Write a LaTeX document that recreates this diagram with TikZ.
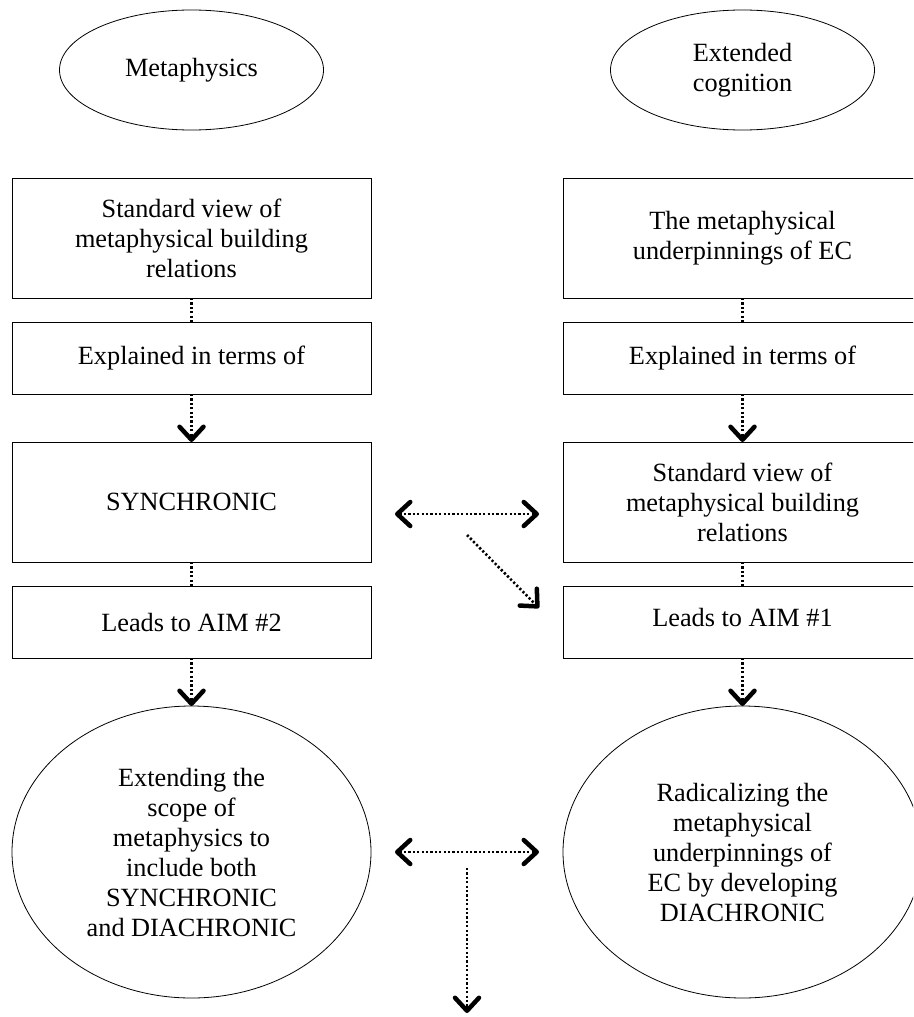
\documentclass[tikz,border=0pt]{standalone}
\usepackage{fontspec}
\setmainfont{Liberation Serif}
\usetikzlibrary{positioning,shapes.geometric,arrows.meta}

\begin{document}
\begin{tikzpicture}[x=1pt,y=-1pt,node distance=24pt and 192pt,
                        font=\fontsize{26.3}{30}\selectfont,
                        >={Straight Barb[length=13pt,width=24pt,line width=4.5pt 0,round]},
                        box/.style={rectangle,draw,line width=0.8pt,minimum width=359pt,
                                    align=center,inner sep=0pt,outer sep=0pt},
                        tall box/.style={box,minimum height=120pt},
                        short box/.style={box,minimum height=72pt},
                        topic node/.style={ellipse,draw,line width=0.8pt,minimum width=264pt,
                                    minimum height=120pt,align=center,inner sep=0pt,outer sep=0pt},
                        aim node/.style={ellipse,draw,line width=0.8pt,minimum width=359pt,
                                    minimum height=292pt,align=center,inner sep=0pt,outer sep=0pt},
                        link/.style={line width=2.6pt,dash pattern=on 2.2pt off 2.2pt}]

    \useasboundingbox (0,0) rectangle (913,1017);
    \clip (0,0) rectangle (913,1017);

    % Define topics
    \node[topic node] (meta) at (191.5,70) {Metaphysics};
    \node[topic node] (ec) at (742.5,70) {Extended\\cognition};

    % Left column
    \node[tall box] (std) at (191.5,238) {Standard view of\\metaphysical building\\relations};
    \node[short box,below=of std] (expl) {Explained in terms of};
    \node[tall box,below=48pt of expl] (syn) {SYNCHRONIC};
    \node[short box,below=of syn] (aim2) {Leads to AIM \#2};
    \node[aim node,below=48pt of aim2] (extend) {Extending the\\scope of\\metaphysics to\\include both\\SYNCHRONIC\\and DIACHRONIC};

    % Right column
    \node[tall box,right=of std] (under) {The metaphysical\\underpinnings of EC};
    \node[short box,below=of under] (expl2) {Explained in terms of};
    \node[tall box,below=48pt of expl2] (std2) {Standard view of\\metaphysical building\\relations};
    \node[short box,below=of std2] (aim1) {\raisebox{10pt}{Leads to AIM \#1}};
    \node[aim node,below=48pt of aim1] (radical) {Radicalizing the\\metaphysical\\underpinnings of\\EC by developing\\DIACHRONIC};

    \coordinate (diag) at (467,535);
    \coordinate (down top) at (467,868);
    \coordinate (down end) at (467,1013);

    % Define links
    \draw[link] (std) -- (expl);
    \draw[link,->] (expl) -- (syn);
    \draw[link] (syn) -- (aim2);
    \draw[link,->] (aim2) -- (extend);
    \draw[link] (under) -- (expl2);
    \draw[link,->] (expl2) -- (std2);
    \draw[link] (std2) -- (aim1);
    \draw[link,->] (aim1) -- (radical);
    \draw[link,<->,shorten <=24pt,shorten >=24pt] ([yshift=-12pt]syn.east) -- ([yshift=-12pt]std2.west);
    \draw[link,<->,shorten <=24pt,shorten >=24pt] (extend.east) -- (radical.west);
    \draw[link,->] (diag) -- ([shift={(-24pt,-22pt)}]aim1.north west);
    \draw[link,->] (down top) -- (down end);

    \end{tikzpicture}
\end{document}
